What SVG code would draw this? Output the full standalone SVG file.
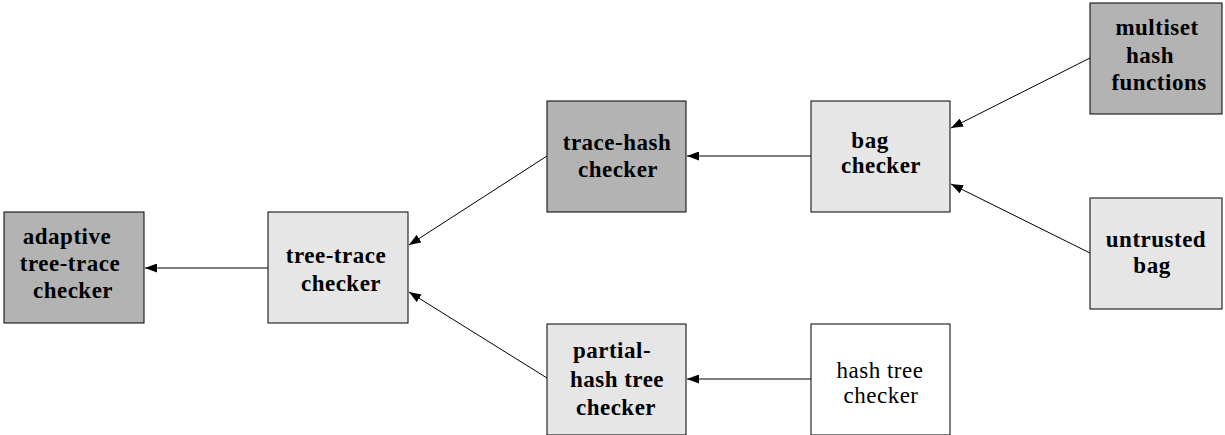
<svg xmlns="http://www.w3.org/2000/svg" width="1225" height="435" viewBox="0 0 1225 435">
<style>
.box{stroke:#000;stroke-width:1}
.dark{fill:#b3b3b3}
.light{fill:#e6e6e6}
.white{fill:#fff}
text{font-family:"Liberation Serif","Times New Roman",serif;font-size:23px;fill:#000;text-anchor:middle;letter-spacing:0.5px}
.b{font-weight:bold}
.edge{stroke:#000;stroke-width:1;fill:none;marker-end:url(#ah)}
</style>
<defs>
<marker id="ah" viewBox="0 0 12 9" refX="12" refY="4.5" markerWidth="12" markerHeight="9" markerUnits="userSpaceOnUse" orient="auto">
<path d="M0,0 L12,4.5 L0,9 z" fill="#000"/>
</marker>
</defs>
<rect width="1225" height="435" fill="#fff"/>
<g id="connectors">
<line class="edge" x1="268" y1="268" x2="145" y2="268"/>
<line class="edge" x1="547" y1="156" x2="409" y2="245"/>
<line class="edge" x1="547" y1="378" x2="409" y2="292"/>
<line class="edge" x1="811" y1="156" x2="687" y2="156"/>
<line class="edge" x1="1090" y1="58" x2="951" y2="128"/>
<line class="edge" x1="1090" y1="253" x2="951" y2="184"/>
<line class="edge" x1="811" y1="379" x2="687" y2="379"/>
</g>
<g id="adaptive">
<rect class="box dark" x="4" y="212" width="140" height="111"/>
<text class="b" x="67" y="244">adaptive</text>
<text class="b" x="70" y="271">tree-trace</text>
<text class="b" x="73" y="298">checker</text>
</g>
<g id="tree-trace">
<rect class="box light" x="268" y="212" width="140" height="111"/>
<text class="b" x="336" y="263">tree-trace</text>
<text class="b" x="341" y="291">checker</text>
</g>
<g id="trace-hash">
<rect class="box dark" x="547" y="101" width="139" height="111"/>
<text class="b" x="617" y="150">trace-hash</text>
<text class="b" x="618" y="177">checker</text>
</g>
<g id="bag">
<rect class="box light" x="811" y="101" width="139" height="111"/>
<text class="b" x="870" y="148">bag</text>
<text class="b" x="881" y="173">checker</text>
</g>
<g id="multiset">
<rect class="box dark" x="1090" y="3" width="132" height="111"/>
<text class="b" x="1157" y="35">multiset</text>
<text class="b" x="1150" y="63">hash</text>
<text class="b" x="1159" y="90">functions</text>
</g>
<g id="untrusted">
<rect class="box light" x="1090" y="198" width="132" height="111"/>
<text class="b" x="1156" y="247">untrusted</text>
<text class="b" x="1152" y="273">bag</text>
</g>
<g id="partial">
<rect class="box light" x="547" y="324" width="139" height="111"/>
<text class="b" x="612" y="358">partial-</text>
<text class="b" x="617" y="387">hash tree</text>
<text class="b" x="616" y="415">checker</text>
</g>
<g id="hashtree">
<rect class="box white" x="811" y="324" width="139" height="111"/>
<text x="880" y="378">hash tree</text>
<text x="881" y="403">checker</text>
</g>
</svg>
